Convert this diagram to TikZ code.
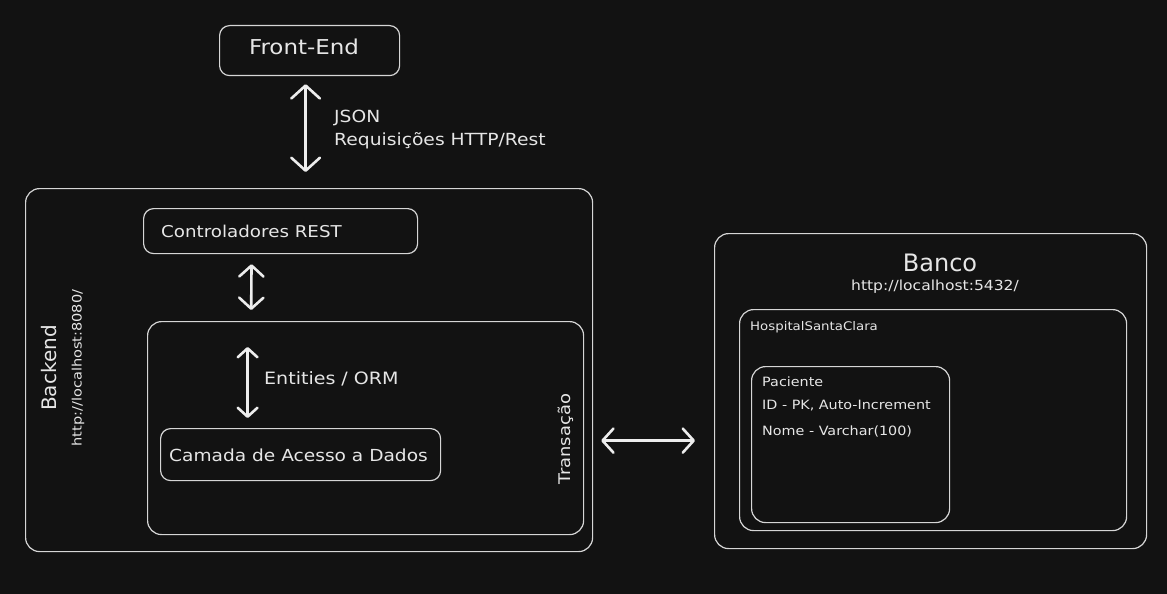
\documentclass[tikz,border=0pt]{standalone}
\usepackage{fontspec}
\setmainfont{DejaVu Sans}
\newfontfamily\widefont[FakeStretch=1.12]{DejaVu Sans}
\usetikzlibrary{arrows.meta}
\definecolor{bg}{HTML}{121212}
\definecolor{ln}{HTML}{D6D6D6}
\definecolor{tx}{HTML}{E6E6E6}
\definecolor{ar}{HTML}{EDEDED}
\newcommand{\fsz}[1]{\widefont\fontsize{#1}{#1}\selectfont}
\newcommand{\psz}[1]{\fontsize{#1}{#1}\selectfont}
\tikzset{
  box/.style={draw=ln, line width=1.2pt, rounded corners=10pt, inner sep=0pt, anchor=north west, text=tx},
  lbl/.style={text=tx, inner sep=0pt},
  dblarrow/.style={draw=ar, line width=2.6pt, line cap=round,
    {Straight Barb[length=#1pt,width=2.2*#1pt,round]}-{Straight Barb[length=#1pt,width=2.2*#1pt,round]}},
}
\begin{document}
\begin{tikzpicture}[x=1pt,y=-1pt]
\fill[bg] (0,0) rectangle (1167,594);
\useasboundingbox (0,0) rectangle (1167,594);

% Front-End
\node[box, minimum width=180pt, minimum height=50pt] (fe) at (219,25) {};
\node[lbl, font=\fsz{20.5}] (fet) at (304,47) {Front-End};

% Backend
\node[box, rounded corners=14pt, minimum width=567pt, minimum height=363pt] (be) at (25,188) {};
\node[box, minimum width=274pt, minimum height=45pt] (ctrl) at (143,208) {};
\node[lbl, anchor=west, font=\fsz{16.3}] (ctrlt) at (161,231) {Controladores REST};
\node[box, rounded corners=14pt, minimum width=436pt, minimum height=213pt] (tr) at (147,321) {};
\node[box, minimum width=280pt, minimum height=52pt] (dal) at (160,428) {};
\node[lbl, font=\fsz{16.6}] (dalt) at (298.5,455) {Camada de Acesso a Dados};
\node[lbl, rotate=90, font=\psz{20}] (bet) at (49,368) {Backend};
\node[lbl, rotate=90, font=\fsz{13}] (beu) at (78,368) {http://localhost:8080/};
\node[lbl, rotate=90, font=\fsz{16}] (trt) at (566,439) {Transação};
\node[lbl, anchor=west, font=\fsz{17}] (orm) at (264,379) {Entities / ORM};

% labels for front-end arrow
\node[lbl, anchor=west, font=\fsz{16.7}] (json) at (334,118) {JSON};
\node[lbl, anchor=west, font=\fsz{16.7}] (req) at (334,141) {Requisições HTTP/Rest};

% Banco
\node[box, rounded corners=14pt, minimum width=432pt, minimum height=315pt] (db) at (714,233) {};
\node[lbl, font=\psz{24}] (dbt) at (940,263) {Banco};
\node[lbl, font=\fsz{13.9}] (dbu) at (935,287) {http://localhost:5432/};
\node[box, rounded corners=14pt, minimum width=387pt, minimum height=221pt] (hs) at (739,309) {};
\node[lbl, anchor=west, font=\fsz{11.9}] (hst) at (750,327) {HospitalSantaClara};
\node[box, rounded corners=14pt, minimum width=198pt, minimum height=156pt] (pac) at (751,366) {};
\node[lbl, anchor=west, font=\fsz{12.8}] (pac1) at (762,382) {Paciente};
\node[lbl, anchor=west, font=\fsz{12.8}] (pac2) at (762,406) {ID - PK, Auto-Increment};
\node[lbl, anchor=west, font=\fsz{12.8}] (pac3) at (762,431) {Nome - Varchar(100)};

% connectors
\draw[dblarrow=13, shorten <=8pt, shorten >=16pt] ([xshift=-4pt]fe.south) -- ([xshift=-3.5pt]be.north);
\draw[dblarrow=11, shorten <=10pt, shorten >=11pt] ([xshift=-29pt]ctrl.south) -- ([xshift=-114.5pt]tr.north);
\draw[dblarrow=9, shorten <=26pt, shorten >=10pt] ([xshift=-118pt]tr.north) -- ([xshift=-53pt]dal.north);
\draw[dblarrow=11, shorten <=8pt, shorten >=19pt] ([yshift=-70.5pt]be.east) -- ([yshift=-49.5pt]db.west);
\end{tikzpicture}
\end{document}
